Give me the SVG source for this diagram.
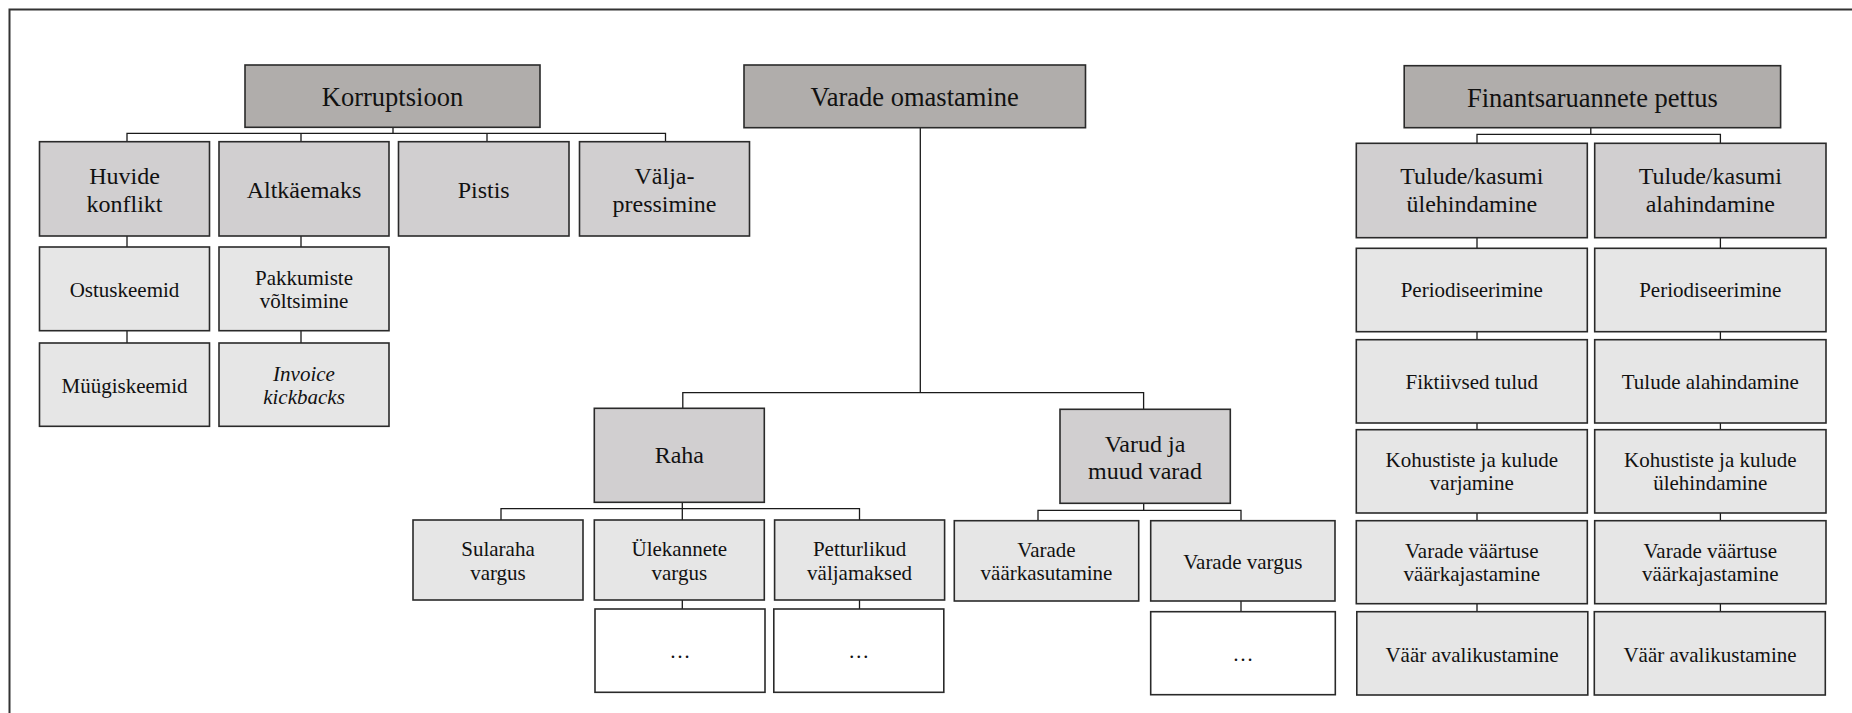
<svg xmlns="http://www.w3.org/2000/svg" width="1852" height="713" viewBox="0 0 1852 713">
<style>
text{font-family:'Liberation Serif','Times New Roman','DejaVu Serif',serif;fill:#111;text-anchor:middle}
.t1{font-size:26.5px}
.t2{font-size:24px}
.t3{font-size:21px}
.it{font-style:italic}
.box{stroke:#2a2a2a;stroke-width:1.6}
.c1{fill:#b0adab}
.c2{fill:#d1cfd0}
.c3{fill:#e6e6e6}
.c4{fill:#ffffff}
.conn path{fill:none;stroke:#1a1a1a;stroke-width:1.3}
.frame{fill:none;stroke:#333;stroke-width:2}
</style>
<rect width="1852" height="713" fill="#fff"/>
<path class="frame" d="M9.5,713 V9.5 H1852"/>

<g class="conn" id="connectors">
<path d="M393,127.3 V133.3 M127,141.7 V133.3 H665.5 V141.7 M301,133.3 V141.7 M487,133.3 V141.7"/>
<path d="M127,236 V247 M127,330.7 V343 M301,236 V247 M301,330.7 V343"/>
<path d="M920.3,127.7 V392.7 M682.8,408.3 V392.7 H1143.6 V409.3"/>
<path d="M682.3,502.3 V520 M501,520 V508.7 H859.5 V520"/>
<path d="M682.3,600 V609 M859.5,600 V609"/>
<path d="M1143.7,503.3 V510.3 M1038,520.7 V510.3 H1241 V520.7 M1241,601 V611.7"/>
<path d="M1590.8,127.7 V134.3 M1477,143.3 V134.3 H1720.4 V143.3"/>
<path d="M1477,237.7 V248.3 M1477,331.7 V339.7 M1477,423 V429.7 M1477,513 V520.7 M1477,603.7 V611.7"/>
<path d="M1720.4,237.7 V248.3 M1720.4,331.7 V339.7 M1720.4,423 V429.7 M1720.4,513 V520.7 M1720.4,603.7 V611.7"/>
</g>

<g id="korruptsioon"><rect class="box c1" x="245" y="65" width="295" height="62.3"/><text class="t1" x="392.5" y="105.5">Korruptsioon</text></g>
<g id="huvide-konflikt"><rect class="box c2" x="39.5" y="141.7" width="170" height="94.3"/><text class="t2" x="124.5" y="184.3">Huvide</text><text class="t2" x="124.5" y="211.7">konflikt</text></g>
<g id="altkaemaks"><rect class="box c2" x="219" y="141.7" width="170" height="94.3"/><text class="t2" x="304" y="197.5">Altkäemaks</text></g>
<g id="pistis"><rect class="box c2" x="398.5" y="141.7" width="170.5" height="94.3"/><text class="t2" x="483.7" y="197.5">Pistis</text></g>
<g id="valjapressimine"><rect class="box c2" x="579.5" y="141.7" width="170" height="94.3"/><text class="t2" x="664.5" y="184.3">Välja-</text><text class="t2" x="664.5" y="211.7">pressimine</text></g>
<g id="ostuskeemid"><rect class="box c3" x="39.5" y="247" width="170" height="83.7"/><text class="t3" x="124.5" y="296.5">Ostuskeemid</text></g>
<g id="pakkumiste"><rect class="box c3" x="219" y="247" width="170" height="83.7"/><text class="t3" x="304" y="285">Pakkumiste</text><text class="t3" x="304" y="308.3">võltsimine</text></g>
<g id="myygiskeemid"><rect class="box c3" x="39.5" y="343" width="170" height="83.3"/><text class="t3" x="124.5" y="393">Müügiskeemid</text></g>
<g id="invoice-kickbacks"><rect class="box c3" x="219" y="343" width="170" height="83.3"/><text class="t3 it" x="304" y="380.7">Invoice</text><text class="t3 it" x="304" y="404">kickbacks</text></g>

<g id="varade-omastamine"><rect class="box c1" x="744" y="65" width="341.5" height="62.7"/><text class="t1" x="914.7" y="105.5">Varade omastamine</text></g>
<g id="raha"><rect class="box c2" x="594.3" y="408.3" width="170" height="94"/><text class="t2" x="679.3" y="463">Raha</text></g>
<g id="varud"><rect class="box c2" x="1060" y="409.3" width="170.3" height="94"/><text class="t2" x="1145" y="451.7">Varud ja</text><text class="t2" x="1145" y="479">muud varad</text></g>
<g id="sularaha"><rect class="box c3" x="413" y="520" width="170" height="80"/><text class="t3" x="498" y="555.7">Sularaha</text><text class="t3" x="498" y="580">vargus</text></g>
<g id="ylekannete"><rect class="box c3" x="594.3" y="520" width="170" height="80"/><text class="t3" x="679.3" y="555.7">Ülekannete</text><text class="t3" x="679.3" y="580">vargus</text></g>
<g id="petturlikud"><rect class="box c3" x="774.6" y="520" width="170" height="80"/><text class="t3" x="859.6" y="555.7">Petturlikud</text><text class="t3" x="859.6" y="580">väljamaksed</text></g>
<g id="dots1"><rect class="box c4" x="595" y="609" width="170" height="83.3"/><text class="t3" x="680" y="658">…</text></g>
<g id="dots2"><rect class="box c4" x="773.8" y="609" width="170" height="83.3"/><text class="t3" x="858.8" y="658">…</text></g>
<g id="varade-vaarkasutamine"><rect class="box c3" x="954.3" y="520.7" width="184.4" height="80.3"/><text class="t3" x="1046.5" y="556.7">Varade</text><text class="t3" x="1046.5" y="580">väärkasutamine</text></g>
<g id="varade-vargus"><rect class="box c3" x="1150.7" y="520.7" width="184.3" height="80.3"/><text class="t3" x="1242.8" y="569">Varade vargus</text></g>
<g id="dots3"><rect class="box c4" x="1150.7" y="611.7" width="184.6" height="83"/><text class="t3" x="1243" y="661">…</text></g>

<g id="finantsaruannete-pettus"><rect class="box c1" x="1404.2" y="65.7" width="376.4" height="62"/><text class="t1" x="1592.4" y="106.5">Finantsaruannete pettus</text></g>
<g id="yle"><rect class="box c2" x="1356.3" y="143.3" width="231" height="94.4"/><text class="t2" x="1471.8" y="184.3">Tulude/kasumi</text><text class="t2" x="1471.8" y="212.3">ülehindamine</text></g>
<g id="ala"><rect class="box c2" x="1594.7" y="143.3" width="231.3" height="94.4"/><text class="t2" x="1710.3" y="184.3">Tulude/kasumi</text><text class="t2" x="1710.3" y="212.3">alahindamine</text></g>
<g id="period1"><rect class="box c3" x="1356.3" y="248.3" width="231" height="83.4"/><text class="t3" x="1471.8" y="297.3">Periodiseerimine</text></g>
<g id="period2"><rect class="box c3" x="1594.7" y="248.3" width="231.3" height="83.4"/><text class="t3" x="1710.3" y="297.3">Periodiseerimine</text></g>
<g id="fiktiivsed"><rect class="box c3" x="1356.3" y="339.7" width="231" height="83.3"/><text class="t3" x="1471.8" y="389.3">Fiktiivsed tulud</text></g>
<g id="tulude-ala"><rect class="box c3" x="1594.7" y="339.7" width="231.3" height="83.3"/><text class="t3" x="1710.3" y="389.3">Tulude alahindamine</text></g>
<g id="kohustiste1"><rect class="box c3" x="1356.3" y="429.7" width="231" height="83.3"/><text class="t3" x="1471.8" y="466.7">Kohustiste ja kulude</text><text class="t3" x="1471.8" y="490">varjamine</text></g>
<g id="kohustiste2"><rect class="box c3" x="1594.7" y="429.7" width="231.3" height="83.3"/><text class="t3" x="1710.3" y="466.7">Kohustiste ja kulude</text><text class="t3" x="1710.3" y="490">ülehindamine</text></g>
<g id="varade-vaartuse1"><rect class="box c3" x="1356.3" y="520.7" width="231" height="83"/><text class="t3" x="1471.8" y="557.7">Varade väärtuse</text><text class="t3" x="1471.8" y="581">väärkajastamine</text></g>
<g id="varade-vaartuse2"><rect class="box c3" x="1594.7" y="520.7" width="231.3" height="83"/><text class="t3" x="1710.3" y="557.7">Varade väärtuse</text><text class="t3" x="1710.3" y="581">väärkajastamine</text></g>
<g id="vaar1"><rect class="box c3" x="1356.8" y="611.7" width="231" height="83.3"/><text class="t3" x="1472" y="661.7">Väär avalikustamine</text></g>
<g id="vaar2"><rect class="box c3" x="1594.3" y="611.7" width="231" height="83.3"/><text class="t3" x="1710" y="661.7">Väär avalikustamine</text></g>
</svg>
